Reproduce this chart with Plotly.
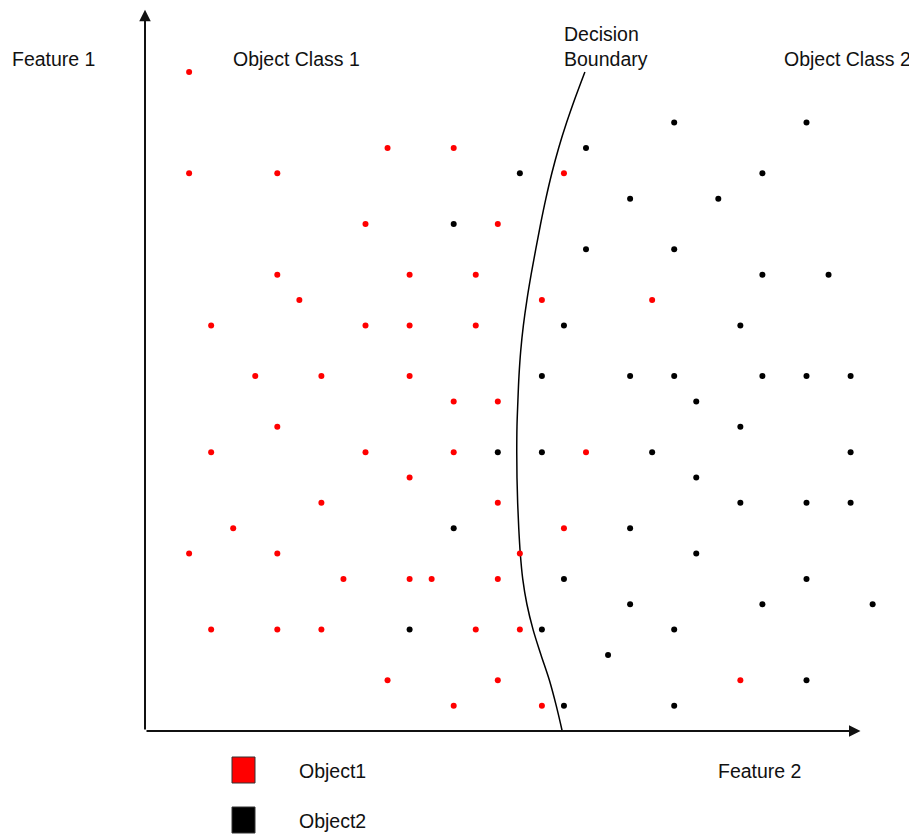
import plotly.graph_objects as go

# ---- data (grid units) ----
class1_x = [2, 11, 14, 2, 6, 19, 10, 16, 6, 12, 15, 7, 18, 23, 3, 10, 12, 15,
            5, 8, 12, 14, 16, 6, 3, 10, 14, 20, 12, 8, 16, 4, 19, 2, 6, 17,
            9, 12, 13, 16, 3, 6, 8, 15, 17, 11, 16, 27, 14, 18]
class1_y = [26, 23, 23, 22, 22, 22, 20, 20, 18, 18, 18, 17, 17, 17, 16, 16, 16, 16,
            14, 14, 14, 13, 13, 12, 11, 11, 11, 11, 10, 9, 9, 8, 8, 7, 7, 7,
            6, 6, 6, 6, 4, 4, 4, 4, 4, 2, 2, 2, 1, 1]

class2_x = [24, 30, 20, 17, 28, 22, 26, 14, 20, 24, 28, 31, 19, 27,
            18, 22, 24, 28, 30, 32, 25, 27, 16, 18, 23, 32, 25, 27, 30, 32,
            14, 22, 25, 19, 30, 22, 28, 33, 12, 18, 24, 21, 30, 19, 24]
class2_y = [24, 24, 23, 22, 22, 21, 21, 20, 19, 19, 18, 18, 16, 16,
            14, 14, 14, 14, 14, 14, 13, 12, 11, 11, 11, 11, 10, 9, 9, 9,
            8, 8, 7, 6, 6, 5, 5, 5, 4, 4, 4, 3, 2, 1, 1]

boundary_x = [19.95, 19.52, 19.12, 18.76, 18.45, 18.18, 17.94, 17.72, 17.51,
              17.32, 17.16, 17.04, 16.96, 16.91, 16.87, 16.86, 16.87, 16.90,
              16.95, 17.02, 17.13, 17.32, 17.60, 17.96, 18.34, 18.65, 18.92]
boundary_y = [26, 25, 24, 23, 22, 21, 20, 19, 18,
              17, 16, 15, 14, 13, 12, 11, 10, 9,
              8, 7, 6, 5, 4, 3, 2, 1, 0]

x_axis_end = 32.45
y_axis_end = 28.45

legend_labels = ["Object1", "Object2"]
legend_colors = ["#ff0000", "#000000"]

# ---- page pixel -> data helpers (layout only) ----
PAGE_W, PAGE_H = 917, 834
OFF = 8  # default body margin of the page
X0PX, XS = 145.0, 22.05
Y0PX, YS = 731.0, 25.35


def dx(px):
    return (px - X0PX) / XS


def dy(py):
    return (Y0PX - py) / YS


FONT = "Liberation Sans, Arial, sans-serif"
FS = 19.5

fig = go.Figure()

fig.add_trace(go.Scatter(x=boundary_x, y=boundary_y, mode="lines",
                         line=dict(color="black", width=1.5, shape="spline", smoothing=1.0),
                         hoverinfo="skip", showlegend=False))
fig.add_trace(go.Scatter(x=class1_x, y=class1_y, mode="markers",
                         marker=dict(color="#ff0000", size=6, line=dict(width=0)),
                         name="Object1", showlegend=False))
fig.add_trace(go.Scatter(x=class2_x, y=class2_y, mode="markers",
                         marker=dict(color="#000000", size=6, line=dict(width=0)),
                         name="Object2", showlegend=False))

annotations = []
annotations.append(dict(x=x_axis_end, y=0, ax=0, ay=0, xref="x", yref="y", axref="x", ayref="y",
                        showarrow=True, arrowhead=2, arrowsize=1.15, arrowwidth=2,
                        arrowcolor="#111111", text=""))
annotations.append(dict(x=0, y=y_axis_end, ax=0, ay=0, xref="x", yref="y", axref="x", ayref="y",
                        showarrow=True, arrowhead=2, arrowsize=1.15, arrowwidth=2,
                        arrowcolor="#111111", text=""))


def label(text, px, py):
    annotations.append(dict(x=dx(px), y=dy(py), xref="x", yref="y", text=text,
                            showarrow=False, xanchor="left", yanchor="middle", align="left",
                            font=dict(family=FONT, size=FS, color="#111111")))


label("Feature 1", 10, 59)
label("Object Class 1", 231, 59)
label("Decision<br>Boundary", 562, 46)
label("Object Class 2", 782, 59)
label("Feature 2", 716, 771)
label(legend_labels[0], 297, 771)
label(legend_labels[1], 297, 821)

shapes = []
for i, col in enumerate(legend_colors):
    top = 757 + i * 50
    shapes.append(dict(type="rect", xref="x", yref="y",
                       x0=dx(232), x1=dx(255), y0=dy(top), y1=dy(top + 26),
                       fillcolor=col, line=dict(color="#333333", width=1)))

fig.update_layout(
    width=PAGE_W - OFF, height=PAGE_H - OFF,
    margin=dict(l=0, r=0, t=0, b=0),
    paper_bgcolor="white", plot_bgcolor="white",
    xaxis=dict(range=[dx(OFF), dx(PAGE_W)], visible=False, fixedrange=True),
    yaxis=dict(range=[dy(PAGE_H), dy(OFF)], visible=False, fixedrange=True),
    annotations=annotations, shapes=shapes, showlegend=False,
)

fig.write_html("out.html", config={"displayModeBar": False})
